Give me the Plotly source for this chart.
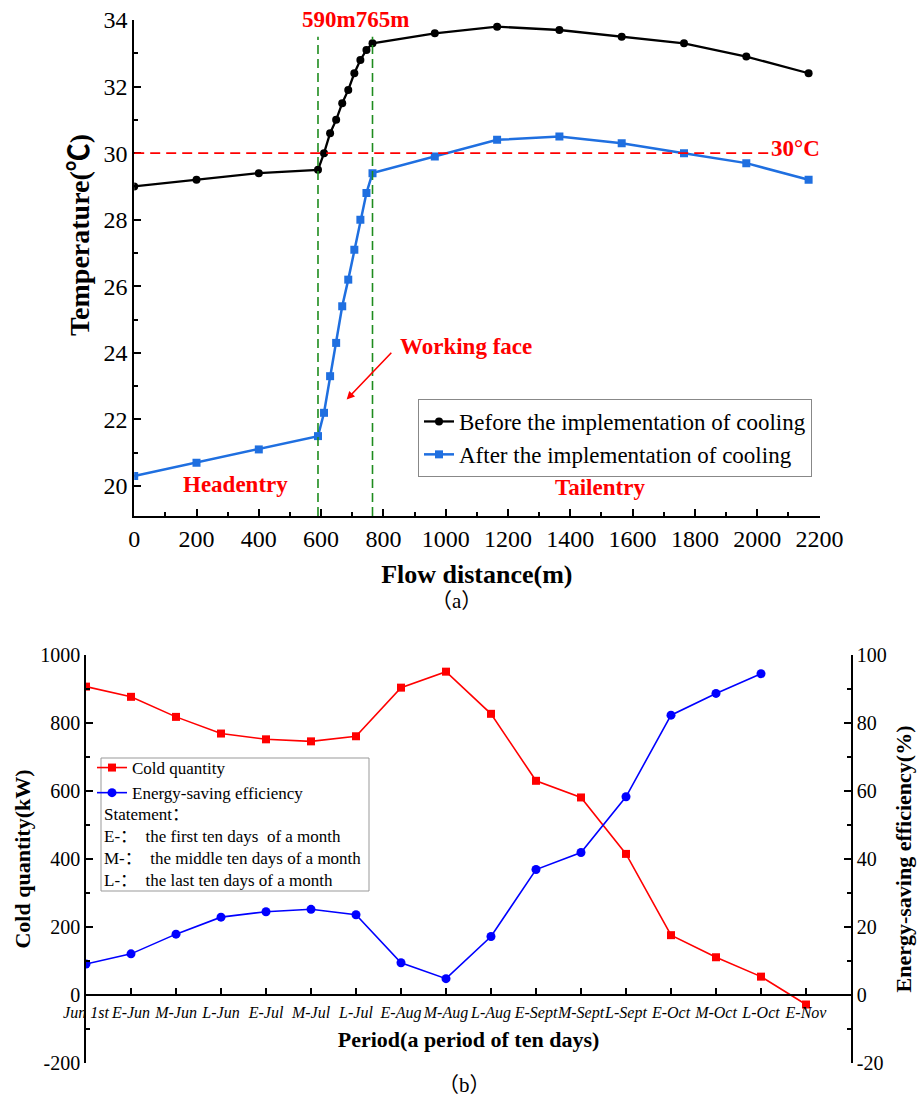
import plotly.graph_objects as go

# ---------------- data: (a) temperature along flow distance ----------------
dist = [0, 200, 400, 590, 609.4, 628.9, 648.3, 667.8, 687.2, 706.7, 726.1, 745.6, 765,
        965, 1165, 1365, 1565, 1765, 1965, 2165]
temp_before = [29.0, 29.2, 29.4, 29.5, 30.0, 30.6, 31.0, 31.5, 31.9, 32.4, 32.8, 33.1, 33.3,
               33.6, 33.8, 33.7, 33.5, 33.3, 32.9, 32.4]
temp_after = [20.3, 20.7, 21.1, 21.5, 22.2, 23.3, 24.3, 25.4, 26.2, 27.1, 28.0, 28.8, 29.4,
              29.9, 30.4, 30.5, 30.3, 30.0, 29.7, 29.2]
face_start, face_end = 590, 765
limit_temp = 30
temp_ticks = [20, 22, 24, 26, 28, 30, 32, 34]
dist_ticks = [0, 200, 400, 600, 800, 1000, 1200, 1400, 1600, 1800, 2000, 2200]

# ---------------- data: (b) cold quantity & energy saving ----------------
periods = ["Jun 1st", "E-Jun", "M-Jun", "L-Jun", "E-Jul", "M-Jul", "L-Jul", "E-Aug", "M-Aug",
           "L-Aug", "E-Sept", "M-Sept", "L-Sept", "E-Oct", "M-Oct", "L-Oct", "E-Nov"]
cold_kw = [907, 877, 818, 769, 752, 746, 761, 904, 951, 827, 630, 581, 415, 176, 111, 54, -28]
saving_pct = [9.1, 12.1, 17.9, 22.9, 24.5, 25.2, 23.6, 9.5, 4.8, 17.2, 36.9, 41.9, 58.3,
              82.3, 88.7, 94.5]
cold_ticks = [-200, 0, 200, 400, 600, 800, 1000]
pct_ticks = [-20, 0, 20, 40, 60, 80, 100]

W, H = 918, 1098
SERIF = "Liberation Serif, Times New Roman, Noto Sans CJK SC, serif"
RED = "#ff0000"
BLUE_A = "#1f6fe0"
GREEN = "#1e8c1e"


def px_x(p):
    return p / W


def px_y(p):
    return 1 - p / H


def f(size, **kw):
    return dict(size=size, family=SERIF, color=kw.pop("color", "black"), **kw)


fig = go.Figure()

# (a) traces
fig.add_trace(go.Scatter(x=dist, y=temp_before, mode="lines+markers",
                         name="Before the implementation of cooling",
                         line=dict(color="black", width=2.3),
                         marker=dict(symbol="circle", size=8, color="black"),
                         xaxis="x", yaxis="y", legend="legend"))
fig.add_trace(go.Scatter(x=dist, y=temp_after, mode="lines+markers",
                         name="After the implementation of cooling",
                         line=dict(color=BLUE_A, width=2.5),
                         marker=dict(symbol="square", size=8, color=BLUE_A),
                         xaxis="x", yaxis="y", legend="legend"))

# (b) traces
fig.add_trace(go.Scatter(x=periods, y=cold_kw, mode="lines+markers",
                         name="Cold quantity",
                         line=dict(color=RED, width=1.6),
                         marker=dict(symbol="square", size=8, color=RED),
                         xaxis="x2", yaxis="y2", legend="legend2"))
fig.add_trace(go.Scatter(x=periods[:len(saving_pct)], y=saving_pct, mode="lines+markers",
                         name="Energy-saving efficiency",
                         line=dict(color="#0000ff", width=1.6),
                         marker=dict(symbol="circle", size=9, color="#0000ff"),
                         xaxis="x2", yaxis="y3", legend="legend2"))

axis_common = dict(showline=True, linecolor="black", linewidth=1.6, showgrid=False,
                   zeroline=False, ticks="inside", tickcolor="black", tickwidth=1.5,
                   automargin=False)


def minor(step, t0=0):
    return dict(tickmode="linear", tick0=t0, dtick=step, ticks="inside", ticklen=4,
                tickcolor="black", tickwidth=1.5)


fig.update_layout(
    width=W, height=H,
    margin=dict(l=0, r=0, t=0, b=0),
    paper_bgcolor="white", plot_bgcolor="white",
    font=dict(family=SERIF, color="black"),
    xaxis=dict(**axis_common, domain=[px_x(134.2), px_x(819.5)], range=[0, 2200],
               tickmode="array", tickvals=dist_ticks, ticktext=[str(v) for v in dist_ticks],
               ticklen=7, minor=minor(100), tickfont=f(24), anchor="y", tickangle=0,
               title=dict(text="<b>Flow distance(m)</b>", font=f(26), standoff=14)),
    yaxis=dict(**axis_common, domain=[px_y(516), px_y(20)], range=[19.1, 34],
               tickmode="array", tickvals=temp_ticks, ticktext=[str(v) for v in temp_ticks],
               ticklen=7, minor=minor(1), tickfont=f(24), anchor="x"),
    xaxis2=dict(**axis_common, domain=[px_x(86), px_x(851)], type="category",
                categoryorder="array", categoryarray=periods, range=[0, 17],
                ticklen=6, anchor="free", position=px_y(995), tickangle=0,
                ticklabelstandoff=3,
                tickfont=f(16, style="italic"),
                title=dict(text="<b>Period(a period of ten days)</b>", font=f(22), standoff=10)),
    yaxis2=dict(**axis_common, domain=[px_y(1063), px_y(655)], range=[-200, 1000],
                tickmode="array", tickvals=cold_ticks, ticktext=[str(v) for v in cold_ticks],
                ticklen=7, minor=minor(100), tickfont=f(20), anchor="x2", side="left",
                title=dict(text="<b>Cold quantity(kW)</b>", font=f(22), standoff=4)),
    yaxis3=dict(**axis_common, domain=[px_y(1063), px_y(655)], range=[-20, 100],
                tickmode="array", tickvals=pct_ticks, ticktext=[str(v) for v in pct_ticks],
                ticklen=7, minor=minor(10), tickfont=f(20), anchor="x2",
                overlaying="y2", side="right",
                title=dict(text="<b>Energy-saving efficiency(%)</b>", font=f(22), standoff=10)),
    legend=dict(x=px_x(418), y=px_y(399), xanchor="left", yanchor="top",
                bgcolor="white", bordercolor="#888888", borderwidth=1,
                font=f(23), itemwidth=30, tracegroupgap=0),
    legend2=dict(x=px_x(92), y=px_y(750), xanchor="left", yanchor="top",
                 bgcolor="rgba(0,0,0,0)", borderwidth=0,
                 font=f(17), itemwidth=30, tracegroupgap=0),
)

# reference lines (a)
for xv in (face_start, face_end):
    fig.add_shape(type="line", xref="x", yref="y", x0=xv, x1=xv, y0=19.1, y1=33.5,
                  line=dict(color=GREEN, width=1.6, dash="9px,5px"))
fig.add_shape(type="line", xref="x", yref="y", x0=0, x1=2045, y0=limit_temp, y1=limit_temp,
              line=dict(color=RED, width=1.6, dash="10px,6px"))

# legend frame for (b)
fig.add_shape(type="rect", xref="paper", yref="paper",
              x0=px_x(101), x1=px_x(369), y0=px_y(891), y1=px_y(758),
              line=dict(color="#999999", width=1), fillcolor="rgba(0,0,0,0)")

red_b = f(23, color=RED)


def note(text, x, y, font, **kw):
    d = dict(text=text, xref="paper", yref="paper", x=px_x(x), y=px_y(y),
             xanchor="center", yanchor="middle", showarrow=False, font=font)
    d.update(kw)
    return d


ann = [
    note("<b>590m765m</b>", 355, 20, red_b),
    note("<b>Working face</b>", 466, 346, red_b),
    dict(text="", xref="x", yref="y", x=682, y=22.6, axref="x", ayref="y", ax=830, ay=24.05,
         showarrow=True, arrowhead=2, arrowsize=1, arrowwidth=1.6, arrowcolor=RED),
    dict(text="<b>Headentry</b>", xref="x", yref="y", x=324, y=20.05,
         xanchor="center", yanchor="middle", showarrow=False, font=red_b),
    dict(text="<b>Tailentry</b>", xref="x", yref="y", x=1496, y=19.96,
         xanchor="center", yanchor="middle", showarrow=False, font=red_b),
    note("<b>30°C</b>", 795, 149, red_b),
    note("<b>Temperature(℃)</b>", 80, 235, f(28), textangle=-90),
    note("（a）", 456, 601, f(21)),
    note("（b）", 464, 1085, f(21)),
]
statement = ["Statement：", "E-：  the first ten days  of a month",
             "M-：  the middle ten days of a month", "L-：  the last ten days of a month"]
for i, line in enumerate(statement):
    ann.append(note(line, 102, 814 + 22 * i, f(17), xanchor="left"))
fig.update_layout(annotations=ann)

fig.write_html("out.html")
